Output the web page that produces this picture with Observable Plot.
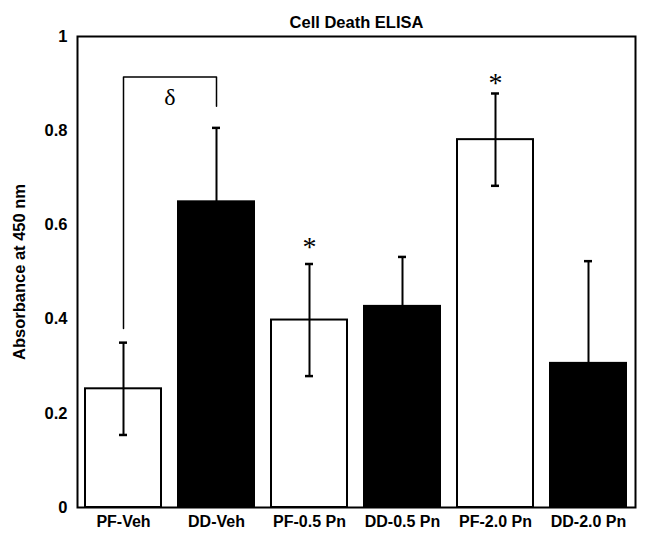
<!DOCTYPE html>
<html>
<head>
<meta charset="utf-8">
<script src="https://cdn.jsdelivr.net/npm/d3@7"></script>
<script src="https://cdn.jsdelivr.net/npm/@observablehq/plot@0.6"></script>
<style>
  html, body { margin: 0; padding: 0; background: #fff; }
  #chart { width: 648px; height: 542px; }
</style>
</head>
<body>
<div id="chart"></div>
<script>
const categories = ["PF-Veh", "DD-Veh", "PF-0.5 Pn", "DD-0.5 Pn", "PF-2.0 Pn", "DD-2.0 Pn"];
const means = [0.252, 0.649, 0.398, 0.427, 0.781, 0.306];
const errors = [0.098, 0.157, 0.119, 0.105, 0.098, 0.217];
const fills = ["white", "black", "white", "black", "white", "black"];
const yTicks = [0, 0.2, 0.4, 0.6, 0.8, 1];
const bracketX = ["PF-Veh", "PF-Veh", "DD-Veh", "DD-Veh"];
const bracketY = [0.38, 0.914, 0.914, 0.852];
const starCats = ["PF-0.5 Pn", "PF-2.0 Pn"];
const starY = [0.552, 0.902];
const titleText = "Cell Death ELISA";
const yLabel = "Absorbance at 450 nm";

const bars = categories.map((c, i) => ({cat: c, mean: means[i], err: errors[i], fill: fills[i]}));
const bracket = bracketX.map((x, i) => ({x, y: bracketY[i]}));
const stars = starCats.map((c, i) => ({cat: c, y: starY[i]}));

const font = "'Liberation Sans', Arial, sans-serif";
const serif = "'Liberation Serif', 'Times New Roman', serif";

const chart = Plot.plot({
  width: 648,
  height: 542,
  marginTop: 36,
  marginBottom: 35,
  marginLeft: 77,
  marginRight: 13,
  style: {fontFamily: font, fontWeight: "bold", color: "black", background: "white"},
  x: {domain: categories, paddingInner: 0.18, paddingOuter: 0.09},
  y: {domain: [0, 1]},
  marks: [
    Plot.barY(bars, {x: "cat", y: "mean", fill: "fill", stroke: "black", strokeWidth: 2}),
    Plot.ruleX(bars, {x: "cat", y1: d => d.mean - d.err, y2: d => d.mean + d.err, stroke: "black", strokeWidth: 2}),
    Plot.tickY(bars, {x: "cat", y: d => d.mean + d.err, stroke: "black", strokeWidth: 2.5, insetLeft: 34, insetRight: 34}),
    Plot.tickY(bars, {x: "cat", y: d => d.mean - d.err, stroke: "black", strokeWidth: 2.5, insetLeft: 34, insetRight: 34}),
    Plot.line(bracket, {x: "x", y: "y", stroke: "black", strokeWidth: 1.5, curve: "linear"}),
    Plot.text(["δ"], {x: () => "PF-Veh", y: () => 0.871, dx: 46.5, text: d => d, fontFamily: serif, fontSize: 24, fontWeight: "normal"}),
    Plot.text(stars, {x: "cat", y: "y", text: () => "*", fontFamily: serif, fontSize: 28, fontWeight: "normal"}),
    Plot.frame({stroke: "black", strokeWidth: 2}),
    Plot.axisX({tickSize: 0, tickPadding: 8, fontSize: 16, label: null}),
    Plot.axisY({ticks: yTicks, tickFormat: d => String(d), tickSize: 0, tickPadding: 10, fontSize: 16.5, label: null}),
    Plot.text([yLabel], {frameAnchor: "left", textAnchor: "middle", dx: -58, rotate: -90, text: d => d, fontSize: 16.5, fontWeight: "bold"}),
    Plot.text([titleText], {frameAnchor: "top", dy: -20, text: d => d, fontSize: 16.5, fontWeight: "bold"})
  ]
});
document.getElementById("chart").appendChild(chart);
</script>
</body>
</html>
